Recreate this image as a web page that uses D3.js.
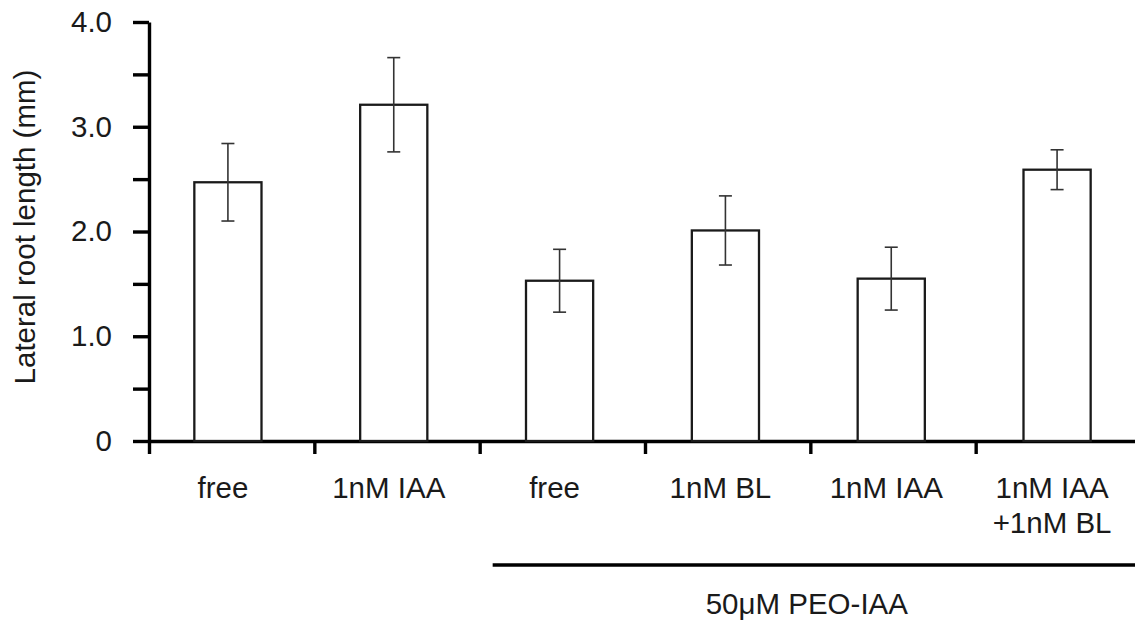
<!DOCTYPE html>
<meta charset="utf-8">
<title>Lateral root length</title>
<style>
  body { margin: 0; background: #fff; }
  text { font-family: "Liberation Sans", Arial, sans-serif; fill: #1a1a1a; }
</style>
<svg width="1135" height="622"></svg>
<script src="https://d3js.org/d3.v7.min.js"></script>
<script>

// treatments, mean lateral root length (mm) and error (mm)
var labels = [["free"], ["1nM IAA"], ["free"], ["1nM BL"], ["1nM IAA"], ["1nM IAA", "+1nM BL"]],
    means = [2.47, 3.21, 1.53, 2.01, 1.55, 2.59],
    errors = [0.37, 0.45, 0.30, 0.33, 0.30, 0.19],
    yTicks = [0, 0.5, 1, 1.5, 2, 2.5, 3, 3.5, 4],
    groupLabel = "50μM PEO-IAA",
    groupStart = 2; // first bar under the PEO-IAA bracket

var svg = d3.select("svg"),
    fontSize = 29.5;

var x = d3.scaleBand()
    .domain(d3.range(means.length))
    .range([145, 1140])
    .paddingInner(0.595)
    .paddingOuter(0.2975);

// boundaries between the categories, for the x axis ticks
var xEdge = d3.scaleLinear()
    .domain([0, means.length])
    .range([149, 1141]);

var y = d3.scaleLinear()
    .domain([0, 4])
    .range([441, 22]);

// y axis, labelled every 1.0, small ticks every 0.5
var yAxis = svg.append("g")
    .attr("transform", "translate(149,0)")
    .call(d3.axisLeft(y)
      .tickValues(yTicks)
      .tickSize(16)
      .tickSizeOuter(0)
      .tickPadding(21)
      .tickFormat(function(d) { return d === 0 ? "0" : d % 1 === 0 ? d.toFixed(1) : ""; }));

yAxis.selectAll("line, path")
    .attr("stroke", "#000")
    .attr("stroke-width", 3.4);
yAxis.selectAll("text")
    .attr("font-size", fontSize)
    .attr("font-family", null)
    .attr("fill", null);

// x axis with ticks between the groups
var xAxis = svg.append("g")
    .attr("transform", "translate(0,441)")
    .call(d3.axisBottom(xEdge)
      .ticks(means.length)
      .tickSize(13)
      .tickSizeOuter(0)
      .tickFormat(""));

xAxis.selectAll("line, path")
    .attr("stroke", "#000")
    .attr("stroke-width", 3.4);

// bars
svg.append("g")
  .selectAll("rect")
  .data(means)
  .join("rect")
    .attr("x", function(d, i) { return x(i); })
    .attr("y", function(d) { return y(d); })
    .attr("width", x.bandwidth())
    .attr("height", function(d) { return y(0) - y(d); })
    .attr("fill", "#fff")
    .attr("stroke", "#1a1a1a")
    .attr("stroke-width", 2.3);

// error bars
var err = svg.append("g")
    .attr("stroke", "#333")
    .attr("stroke-width", 1.6)
  .selectAll("g")
  .data(means)
  .join("g")
    .attr("transform", function(d, i) { return "translate(" + (x(i) + x.bandwidth() / 2) + ",0)"; });

err.append("line")
    .attr("y1", function(d, i) { return y(d + errors[i]); })
    .attr("y2", function(d, i) { return y(d - errors[i]); });

err.selectAll("line.cap")
  .data(function(d, i) { return [d + errors[i], d - errors[i]]; })
  .join("line")
    .attr("class", "cap")
    .attr("x1", -6.5)
    .attr("x2", 6.5)
    .attr("y1", function(v) { return y(v); })
    .attr("y2", function(v) { return y(v); });

// category labels
svg.append("g")
    .attr("font-size", fontSize)
    .attr("text-anchor", "middle")
  .selectAll("text")
  .data(labels)
  .join("text")
    .attr("transform", function(d, i) { return "translate(" + (x(i) + x.bandwidth() / 2 - 5) + ",498)"; })
  .selectAll("tspan")
  .data(function(d) { return d; })
  .join("tspan")
    .attr("x", 0)
    .attr("y", function(d, j) { return j * 35; })
    .text(function(d) { return d; });

// bracket for the PEO-IAA treatments
var bracketX0 = xEdge(groupStart) + 13,
    bracketX1 = xEdge.range()[1];

svg.append("line")
    .attr("x1", bracketX0)
    .attr("x2", bracketX1)
    .attr("y1", 565)
    .attr("y2", 565)
    .attr("stroke", "#000")
    .attr("stroke-width", 3.5);

svg.append("text")
    .attr("x", (bracketX0 + bracketX1) / 2 - 10)
    .attr("y", 614)
    .attr("font-size", fontSize)
    .attr("text-anchor", "middle")
    .text(groupLabel);

// y axis title
svg.append("text")
    .attr("transform", "translate(35,227) rotate(-90)")
    .attr("font-size", fontSize)
    .attr("text-anchor", "middle")
    .text("Lateral root length (mm)");

</script>
